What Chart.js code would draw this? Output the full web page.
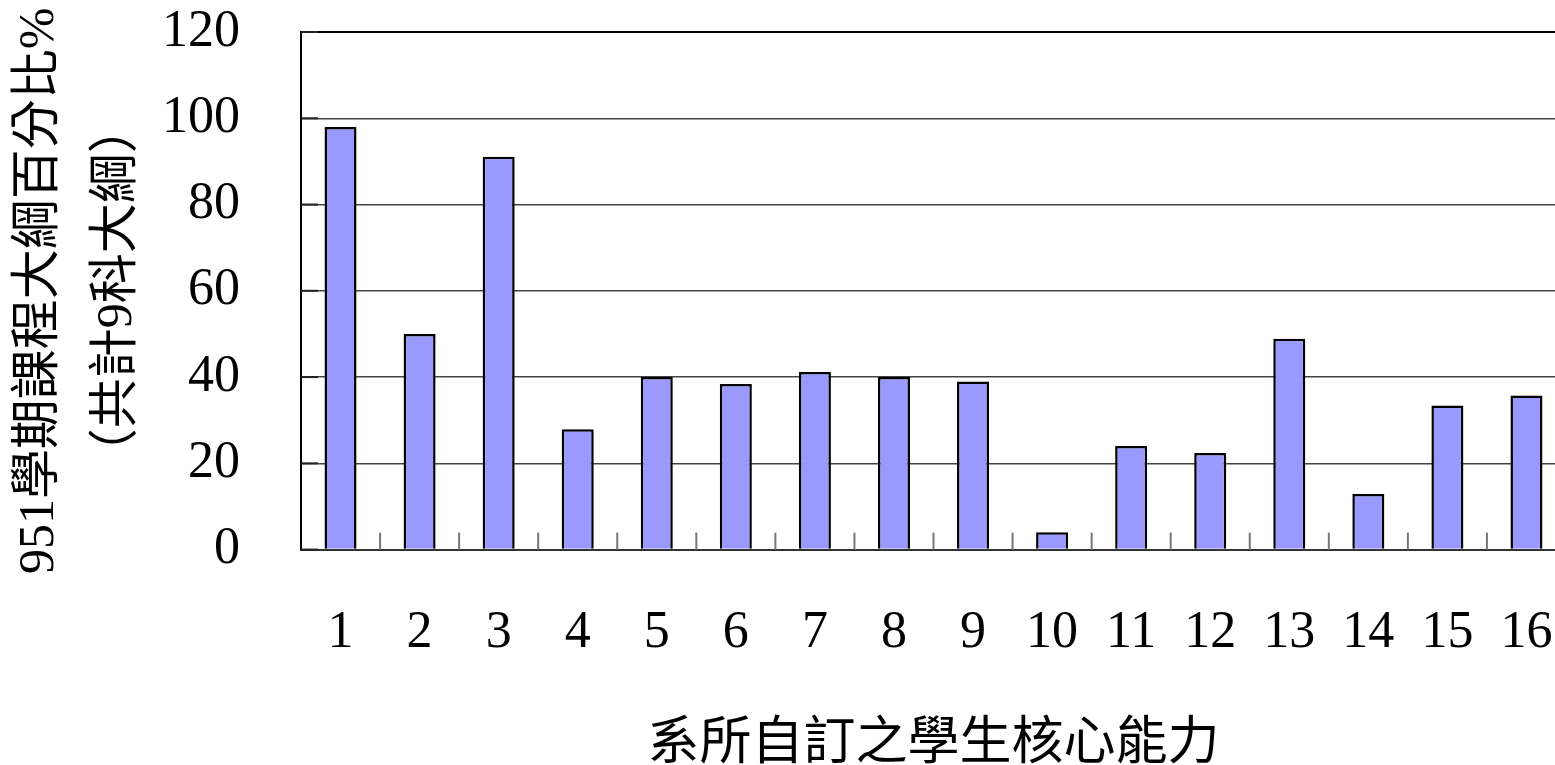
<!DOCTYPE html>
<html>
<head>
<meta charset="utf-8">
<script src="https://cdn.jsdelivr.net/npm/chart.js@4"></script>
<style>
  html, body { margin: 0; padding: 0; background: #fff; overflow: hidden; }
  #wrap { position: relative; width: 1566px; height: 765px; }
</style>
</head>
<body>
<div id="wrap"><canvas id="c"></canvas></div>
<script>
const categories = ['1','2','3','4','5','6','7','8','9','10','11','12','13','14','15','16'];
const values = [98, 50, 91.1, 27.9, 40, 38.4, 41.2, 40, 39, 4, 24, 22.4, 48.9, 12.9, 33.4, 35.7];
const yTitle = ['951學期課程大綱百分比%', '（共計9科大綱）'];
const xTitle = '系所自訂之學生核心能力';

const SERIF = '"Liberation Serif", "Noto Sans CJK TC", serif';
const CJK = '"Noto Sans CJK TC", "Liberation Serif", serif';

const innerTicks = {
  id: 'innerTicks',
  beforeDatasetsDraw(chart) {
    const x = chart.scales.x;
    const y = chart.scales.y;
    const left = chart.chartArea.left;
    const bottom = chart.chartArea.bottom;
    const ctx = chart.ctx;
    ctx.save();
    ctx.strokeStyle = '#777';
    ctx.lineWidth = 2;
    for (let i = 1; i < categories.length; i++) {
      const px = (x.getPixelForValue(i - 1) + x.getPixelForValue(i)) / 2;
      ctx.beginPath();
      ctx.moveTo(px, bottom);
      ctx.lineTo(px, bottom - 17);
      ctx.stroke();
    }
    ctx.strokeStyle = '#222';
    y.ticks.forEach((t) => {
      const py = y.getPixelForValue(t.value);
      ctx.beginPath();
      ctx.moveTo(left, py);
      ctx.lineTo(left + 17, py);
      ctx.stroke();
    });
    ctx.restore();
  }
};

new Chart(document.getElementById('c'), {
  type: 'bar',
  data: {
    labels: categories,
    datasets: [{
      data: values,
      backgroundColor: '#9999FF',
      borderColor: '#000',
      borderWidth: 2.5,
      barPercentage: 0.405,
      categoryPercentage: 1
    }]
  },
  plugins: [innerTicks],
  options: {
    responsive: true,
    maintainAspectRatio: false,
    animation: false,
    layout: { padding: { top: 32, left: 0, right: 0, bottom: 0 } },
    plugins: { legend: { display: false }, tooltip: { enabled: false } },
    scales: {
      x: {
        offset: true,
        grid: {
          display: true,
          drawOnChartArea: false,
          drawTicks: true,
          tickLength: 53,
          tickColor: 'rgba(0,0,0,0)'
        },
        border: { display: true, color: '#333', width: 2 },
        ticks: {
          color: '#000',
          padding: 0,
          maxRotation: 0,
          autoSkip: false,
          font: { family: SERIF, size: 52 }
        },
        title: {
          display: true,
          text: xTitle,
          color: '#000',
          font: { family: CJK, size: 52, lineHeight: 1 },
          padding: { top: 48, bottom: 0 }
        }
      },
      y: {
        min: 0,
        max: 120,
        ticks: {
          stepSize: 20,
          color: '#000',
          padding: 0,
          font: { family: SERIF, size: 52 }
        },
        grid: {
          drawTicks: true,
          tickLength: 61,
          tickColor: 'rgba(0,0,0,0)',
          color: (c) => (c.tick && c.tick.value === 120) ? '#000' : '#444',
          lineWidth: (c) => (c.tick && c.tick.value === 120) ? 2 : 1.5
        },
        border: { display: true, color: '#000', width: 2 },
        title: {
          display: true,
          text: yTitle,
          color: '#000',
          font: { family: SERIF, size: 50, lineHeight: 1.56 },
          padding: { top: 1, bottom: 5 }
        }
      }
    }
  }
});
</script>
</body>
</html>
